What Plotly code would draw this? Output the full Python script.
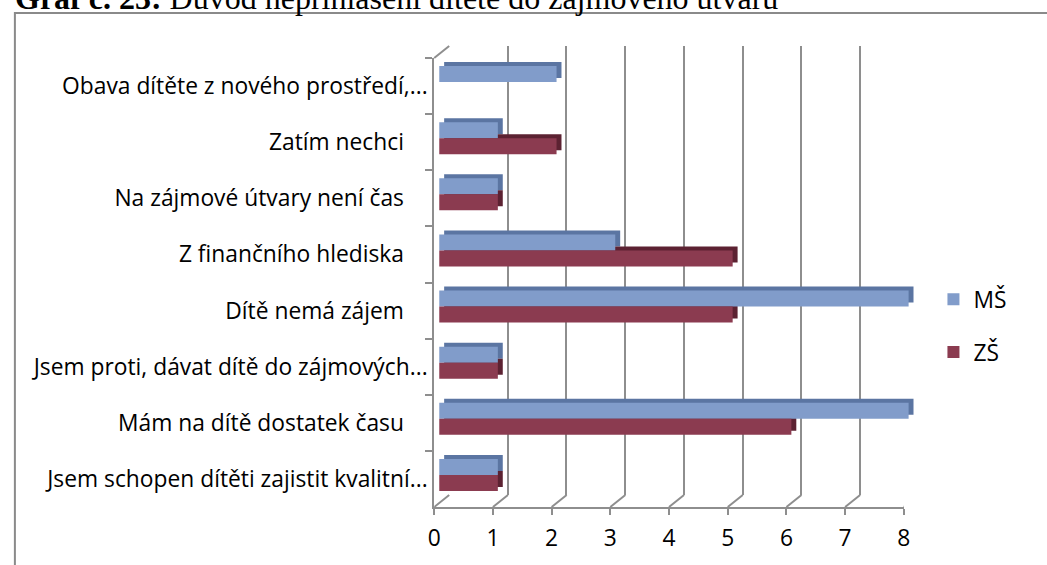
import plotly.graph_objects as go

W, H = 1047, 565

# categories listed top to bottom, as in the picture
categories = [
    "Obava dítěte z nového prostředí,...",
    "Zatím nechci" + "\u00a0" * 4,
    "Na zájmové útvary není čas" + "\u00a0" * 4,
    "Z finančního hlediska" + "\u00a0" * 4,
    "Dítě nemá zájem" + "\u00a0" * 4,
    "Jsem proti, dávat dítě do zájmových...",
    "Mám na dítě dostatek času" + "\u00a0" * 4,
    "Jsem schopen dítěti zajistit kvalitní...",
]
ms_values = [2, 1, 1, 3, 8, 1, 8, 1]
zs_values = [0, 2, 1, 5, 5, 1, 6, 1]
x_ticks = [0, 1, 2, 3, 4, 5, 6, 7, 8]

MS_COL, MS_DARK = "#819cca", "#5b75a2"
ZS_COL, ZS_DARK = "#8b3b50", "#5c2232"
GRID = "#8e8e8e"
FONT = "Open Sans"
FS = 22.8

# page has no body margin, so the figure sits at 0,0
NO_MARGIN = "document.body.style.margin='0';"


def px(x):
    return x / W


def py(y):
    return 1 - y / H


# front plane (labels), back wall (grid), bar front faces, bar back faces
front_x, front_y = (433, 909), (507, 58)
DX, DY = 15, 12          # depth of the 3D box
bar_dx, bar_dy = 5, 4    # front face of the bars
dep_dx, dep_dy = 10, 8   # back face of the bars


def xdom(shift):
    return [px(front_x[0] + shift), px(front_x[1] + shift)]


def ydom(shift):
    return [py(front_y[0] - shift), py(front_y[1] - shift)]


fig = go.Figure()

# helper traces so that label and grid axes get drawn
for xa, ya in [("x", "y"), ("x2", "y2")]:
    fig.add_trace(go.Bar(y=categories, x=ms_values, orientation="h", xaxis=xa, yaxis=ya,
                         marker=dict(color="rgba(0,0,0,0)", line=dict(width=0)),
                         showlegend=False, hoverinfo="skip"))

# back faces (seen as top / side faces) behind the front faces
for vals, col in [(ms_values, MS_DARK), (zs_values, ZS_DARK)]:
    fig.add_trace(go.Bar(y=categories, x=vals, orientation="h", xaxis="x3", yaxis="y3",
                         marker=dict(color=col, line=dict(width=0)), showlegend=False, hoverinfo="skip"))

fig.add_trace(go.Bar(y=categories, x=ms_values, orientation="h", name="MŠ", xaxis="x4", yaxis="y4",
                     marker=dict(color=MS_COL, line=dict(width=0)), legendrank=1))
fig.add_trace(go.Bar(y=categories, x=zs_values, orientation="h", name="ZŠ", xaxis="x4", yaxis="y4",
                     marker=dict(color=ZS_COL, line=dict(width=0)), legendrank=2, legendgroup="zs"))

yrange = [len(categories) - 0.5, -0.5]
hidden_x = dict(range=[0, 8], showgrid=False, zeroline=False, showticklabels=False, showline=False, ticks="")
hidden_y = dict(range=yrange, type="category", showgrid=False, zeroline=False, showticklabels=False,
                showline=False, ticks="")

fig.update_layout(
    width=W, height=H,
    margin=dict(l=0, r=0, t=0, b=0),
    paper_bgcolor="white", plot_bgcolor="rgba(0,0,0,0)",
    barmode="group", bargap=0.43, bargroupgap=0,
    font=dict(family=FONT, size=FS, color="black"),
    showlegend=True,
    legend=dict(x=px(939), y=py(278), xanchor="left", yanchor="top", font=dict(size=FS),
                tracegroupgap=20, bgcolor="rgba(0,0,0,0)"),
    xaxis=dict(domain=xdom(0), anchor="y", range=[0, 8], tickvals=x_ticks, showgrid=False, zeroline=False,
               showline=True, linecolor=GRID, linewidth=2, ticks="outside", ticklen=6, tickwidth=2,
               tickcolor=GRID, tickfont=dict(size=FS), ticklabelstandoff=4),
    yaxis=dict(domain=ydom(0), anchor="x", range=yrange, type="category", showgrid=False, zeroline=False,
               showline=True, linecolor=GRID, linewidth=2, ticks="outside", ticklen=7, tickwidth=2,
               tickcolor=GRID, tickson="boundaries", tickfont=dict(size=FS)),
    xaxis2=dict(hidden_x, domain=xdom(DX), anchor="y2", showgrid=True, gridcolor=GRID,
                gridwidth=2, tickvals=x_ticks),
    yaxis2=dict(hidden_y, domain=ydom(DY), anchor="x2"),
    xaxis3=dict(hidden_x, domain=xdom(dep_dx), anchor="y3"),
    yaxis3=dict(hidden_y, domain=ydom(dep_dy), anchor="x3"),
    xaxis4=dict(hidden_x, domain=xdom(bar_dx), anchor="y4"),
    yaxis4=dict(hidden_y, domain=ydom(bar_dy), anchor="x4"),
)

# floor diagonals from the front axis to the back wall, and the top-left one
for v in x_ticks:
    fig.add_shape(type="line", xref="x", xsizemode="pixel", xanchor=v, x0=0, x1=DX,
                  yref="paper", ysizemode="pixel", yanchor=py(front_y[0]), y0=0, y1=DY,
                  line=dict(color=GRID, width=2), layer="below")
fig.add_shape(type="line", xref="paper", xsizemode="pixel", xanchor=px(front_x[0]), x0=0, x1=DX,
              yref="paper", ysizemode="pixel", yanchor=py(front_y[1]), y0=0, y1=DY,
              line=dict(color=GRID, width=2))

# outer frame (runs off the right and bottom edges)
fig.add_shape(type="rect", xref="paper", yref="paper", x0=px(8), x1=1.2, y0=-0.2, y1=py(13),
              line=dict(color="#8a8a8a", width=2), layer="below")

# caption, cut off by the top edge
fig.add_annotation(text="<b>Graf č. 23:</b> Důvod nepřihlášení dítěte do zájmového útvaru",
                   xref="paper", yref="paper", x=px(6), y=1, xanchor="left", yanchor="bottom",
                   yshift=-18, showarrow=False, font=dict(family="Liberation Serif", size=32, color="black"))

fig.write_html("out.html", post_script=NO_MARGIN, config={"displayModeBar": False})
